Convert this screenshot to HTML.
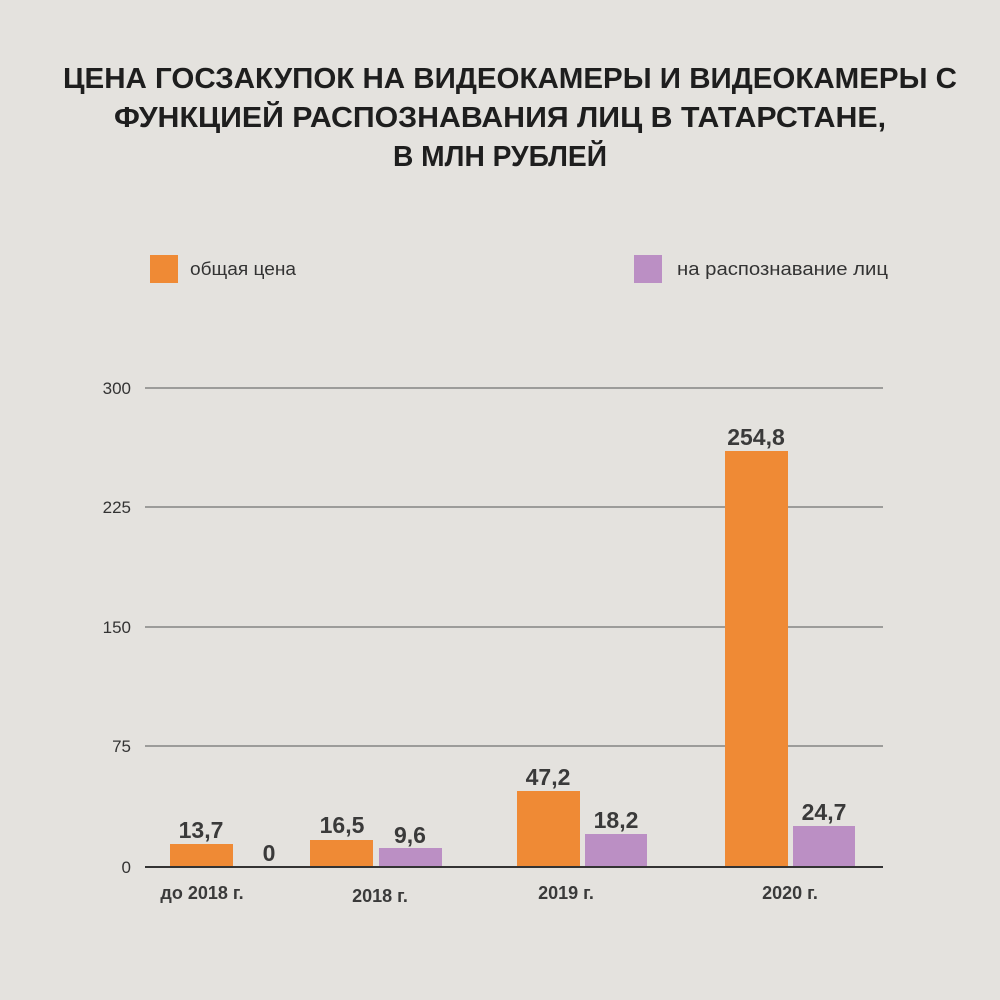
<!DOCTYPE html>
<html><head><meta charset="utf-8"><style>
html,body{margin:0;padding:0;background:#e4e2de;}
svg{display:block;font-family:"Liberation Sans",sans-serif;}
</style></head><body>
<svg width="1000" height="1000" viewBox="0 0 1000 1000">
<rect width="1000" height="1000" fill="#e4e2de"/>
<g font-weight="bold" font-size="29" fill="#1e1e1e" text-anchor="middle">
<text x="510" y="88" textLength="894" lengthAdjust="spacingAndGlyphs">ЦЕНА ГОСЗАКУПОК НА ВИДЕОКАМЕРЫ И ВИДЕОКАМЕРЫ С</text>
<text x="500" y="127" textLength="772" lengthAdjust="spacingAndGlyphs">ФУНКЦИЕЙ РАСПОЗНАВАНИЯ ЛИЦ В ТАТАРСТАНЕ,</text>
<text x="500" y="166" textLength="214" lengthAdjust="spacingAndGlyphs">В МЛН РУБЛЕЙ</text>
</g>
<rect x="150" y="255" width="28" height="28" fill="#ef8a35"/>
<text x="190" y="275" font-size="18" fill="#333" textLength="106" lengthAdjust="spacingAndGlyphs">общая цена</text>
<rect x="634" y="255" width="28" height="28" fill="#bb8fc4"/>
<text x="677" y="275" font-size="18" fill="#333" textLength="211" lengthAdjust="spacingAndGlyphs">на распознавание лиц</text>
<g stroke="#555" stroke-width="1">
<line x1="145" y1="388" x2="883" y2="388"/>
<line x1="145" y1="507" x2="883" y2="507"/>
<line x1="145" y1="627" x2="883" y2="627"/>
<line x1="145" y1="746" x2="883" y2="746"/>
</g>
<g font-size="17" fill="#333" text-anchor="end">
<text x="131" y="394">300</text>
<text x="131" y="513">225</text>
<text x="131" y="633">150</text>
<text x="131" y="752">75</text>
<text x="131" y="873">0</text>
</g>
<g fill="#ef8a35">
<rect x="170" y="844" width="63" height="22"/>
<rect x="310" y="840" width="63" height="26"/>
<rect x="517" y="791" width="63" height="75"/>
<rect x="725" y="451" width="63" height="415"/>
</g>
<g fill="#bb8fc4">
<rect x="379" y="848" width="63" height="18"/>
<rect x="585" y="834" width="62" height="32"/>
<rect x="793" y="826" width="62" height="40"/>
</g>
<line x1="145" y1="867" x2="883" y2="867" stroke="#333" stroke-width="2"/>
<g font-size="23" font-weight="bold" fill="#3a3a3a" text-anchor="middle">
<text x="201" y="838">13,7</text>
<text x="269" y="861">0</text>
<text x="342" y="833">16,5</text>
<text x="410" y="843">9,6</text>
<text x="548" y="785">47,2</text>
<text x="616" y="828">18,2</text>
<text x="756" y="445">254,8</text>
<text x="824" y="820">24,7</text>
</g>
<g font-size="18" font-weight="bold" fill="#3a3a3a" text-anchor="middle">
<text x="202" y="899">до 2018 г.</text>
<text x="380" y="902">2018 г.</text>
<text x="566" y="899">2019 г.</text>
<text x="790" y="899">2020 г.</text>
</g>
</svg>
</body></html>
